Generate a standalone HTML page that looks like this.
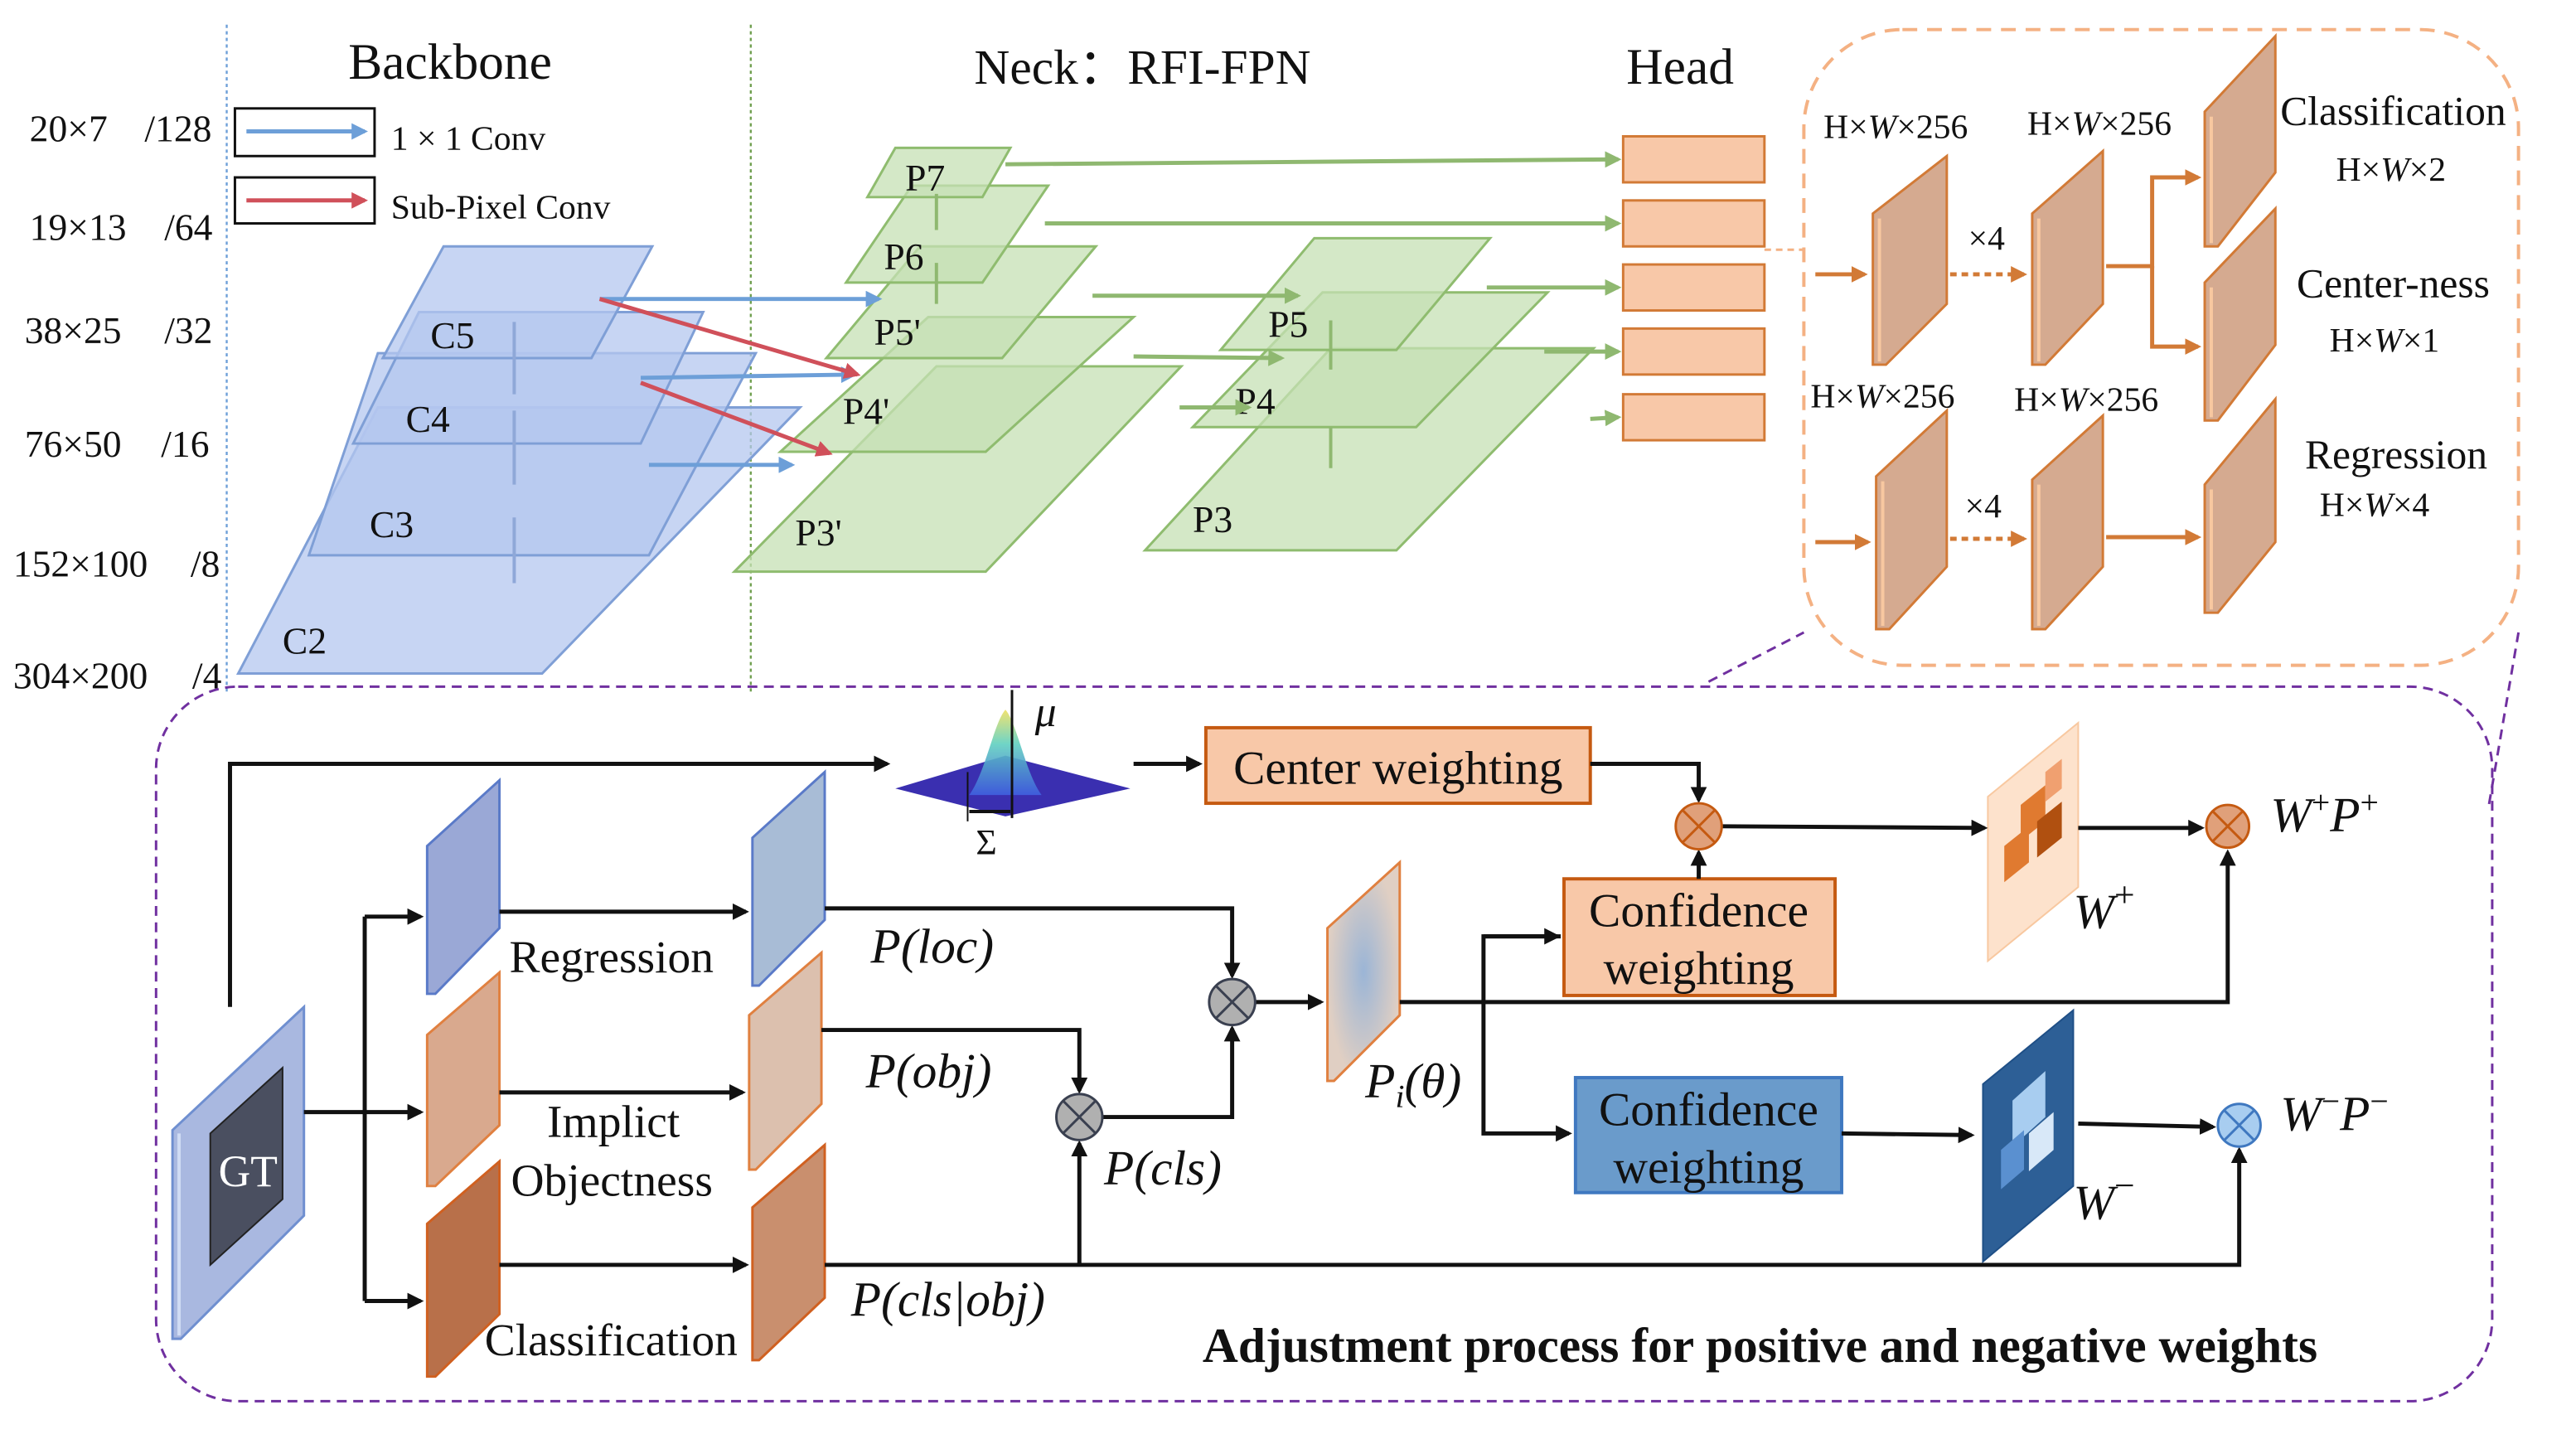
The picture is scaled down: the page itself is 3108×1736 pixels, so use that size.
<!DOCTYPE html>
<html><head><meta charset="utf-8"><style>
html,body{margin:0;padding:0;background:#fff;}
svg{display:block;}
text{font-family:"Liberation Serif",serif;fill:#111;}
.it{font-style:italic;}
</style></head><body>
<svg width="3108" height="1736" viewBox="0 0 1568 876" preserveAspectRatio="none" xmlns="http://www.w3.org/2000/svg">
<defs>
<marker id="ab" markerWidth="10" markerHeight="10" refX="8" refY="5" orient="auto" markerUnits="userSpaceOnUse"><path d="M0,0 L10,5 L0,10 z" fill="#111"/></marker>
<marker id="abl" markerWidth="10" markerHeight="10" refX="8" refY="5" orient="auto" markerUnits="userSpaceOnUse"><path d="M0,0 L10,5 L0,10 z" fill="#6d9fd8"/></marker>
<marker id="ar" markerWidth="10" markerHeight="10" refX="8" refY="5" orient="auto" markerUnits="userSpaceOnUse"><path d="M0,0 L10,5 L0,10 z" fill="#d0505a"/></marker>
<marker id="ag" markerWidth="10" markerHeight="10" refX="8" refY="5" orient="auto" markerUnits="userSpaceOnUse"><path d="M0,0 L10,5 L0,10 z" fill="#8fb870"/></marker>
<marker id="ao" markerWidth="10" markerHeight="10" refX="8" refY="5" orient="auto" markerUnits="userSpaceOnUse"><path d="M0,0 L10,5 L0,10 z" fill="#d27a36"/></marker>
<radialGradient id="pg" cx="0.5" cy="0.5" r="0.5"><stop offset="0" stop-color="#9bb5d6"/><stop offset="1" stop-color="#e0cfc3"/></radialGradient>
<linearGradient id="gs" x1="0" y1="0" x2="0" y2="1"><stop offset="0" stop-color="#f0e060"/><stop offset="0.4" stop-color="#60d0c0"/><stop offset="1" stop-color="#4060e0"/></linearGradient>
</defs>

<g font-size="23">
<text x="18" y="86">20×7</text><text x="88" y="86">/128</text>
<text x="18" y="146">19×13</text><text x="100" y="146">/64</text>
<text x="15" y="209">38×25</text><text x="100" y="209">/32</text>
<text x="15" y="278">76×50</text><text x="98" y="278">/16</text>
<text x="8" y="351">152×100</text><text x="116" y="351">/8</text>
<text x="8" y="419">304×200</text><text x="117" y="419">/4</text>
</g>
<line x1="138" y1="15" x2="138" y2="422" stroke="#6d9fd8" stroke-width="1.2" stroke-dasharray="2,2"/>
<line x1="457" y1="15" x2="457" y2="422" stroke="#70a050" stroke-width="1.2" stroke-dasharray="2,2"/>

<text x="212" y="48" font-size="31">Backbone</text>
<text x="593" y="51" font-size="30">Neck：RFI-FPN</text>
<text x="990" y="51" font-size="31">Head</text>

<rect x="143" y="66" width="85" height="29" fill="none" stroke="#111" stroke-width="1.5"/>
<line x1="150" y1="80" x2="222" y2="80" stroke="#6d9fd8" stroke-width="2.5" marker-end="url(#abl)"/>
<text x="238" y="91" font-size="21">1 × 1 Conv</text>
<rect x="143" y="108" width="85" height="28" fill="none" stroke="#111" stroke-width="1.5"/>
<line x1="150" y1="122" x2="222" y2="122" stroke="#d0505a" stroke-width="2.5" marker-end="url(#ar)"/>
<text x="238" y="133" font-size="21">Sub-Pixel Conv</text>

<g fill="#b4c7ef" fill-opacity="0.75" stroke="#7f9fd6" stroke-width="1.5">
<polygon points="230,248 487,248 330,410 145,410"/>
<polygon points="230,215 460,215 395,338 188,338"/>
<polygon points="255,190 428,190 390,270 215,270"/>
<polygon points="270,150 397,150 360,218 233,218"/>
</g>
<g stroke="#8fa8d8" stroke-width="2">
<line x1="313" y1="355" x2="313" y2="315"/><line x1="313" y1="295" x2="313" y2="250"/><line x1="313" y1="240" x2="313" y2="196"/>
</g>
<g font-size="23"><text x="262" y="212">C5</text><text x="247" y="263">C4</text><text x="225" y="327">C3</text><text x="172" y="398">C2</text></g>

<g fill="#c5e0b4" fill-opacity="0.75" stroke="#8fbc6f" stroke-width="1.5">
<polygon points="570,223 719,223 600,348 447,348"/>
<polygon points="565,193 690,193 600,275 475,275"/>
<polygon points="560,150 667,150 610,218 503,218"/>
<polygon points="555,113 638,113 598,172 515,172"/>
<polygon points="545,90 615,90 598,120 528,120"/>
<polygon points="810,212 970,212 850,335 697,335"/>
<polygon points="805,178 942,178 862,260 726,260"/>
<polygon points="800,145 907,145 850,213 743,213"/>
</g>
<g stroke="#8fb870" stroke-width="2"><line x1="570" y1="140" x2="570" y2="118"/><line x1="570" y1="185" x2="570" y2="160"/><line x1="810" y1="285" x2="810" y2="260"/><line x1="810" y1="225" x2="810" y2="195"/></g>
<g font-size="23"><text x="551" y="116">P7</text><text x="538" y="164">P6</text><text x="532" y="210">P5'</text><text x="513" y="258">P4'</text><text x="484" y="332">P3'</text>
<text x="772" y="205">P5</text><text x="752" y="252">P4</text><text x="726" y="324">P3</text></g>

<g stroke-width="2.5" fill="none">
<line x1="365" y1="182" x2="535" y2="182" stroke="#6d9fd8" marker-end="url(#abl)"/>
<line x1="390" y1="230" x2="520" y2="228" stroke="#6d9fd8" marker-end="url(#abl)"/>
<line x1="395" y1="283" x2="482" y2="283" stroke="#6d9fd8" marker-end="url(#abl)"/>
<line x1="365" y1="182" x2="522" y2="228" stroke="#d0505a" marker-end="url(#ar)"/>
<line x1="390" y1="233" x2="505" y2="276" stroke="#d0505a" marker-end="url(#ar)"/>
</g>
<g stroke="#8fb870" stroke-width="2.5" fill="none" marker-end="url(#ag)">
<line x1="612" y1="100" x2="985" y2="97"/>
<line x1="636" y1="136" x2="985" y2="136"/>
<line x1="665" y1="180" x2="790" y2="180"/>
<line x1="690" y1="217" x2="780" y2="218"/>
<line x1="718" y1="248" x2="760" y2="248"/>
<line x1="905" y1="175" x2="985" y2="175"/>
<line x1="940" y1="214" x2="985" y2="214"/>
<line x1="968" y1="255" x2="985" y2="254"/>
</g>
<g fill="#f8c8a8" stroke="#d27a36" stroke-width="1.5">
<rect x="988" y="83" width="86" height="28"/><rect x="988" y="122" width="86" height="28"/><rect x="988" y="161" width="86" height="28"/><rect x="988" y="200" width="86" height="28"/><rect x="988" y="240" width="86" height="28"/>
</g>

<rect x="1098" y="18" width="435" height="387" rx="60" fill="none" stroke="#f4b183" stroke-width="2" stroke-dasharray="9,6"/>
<line x1="1074" y1="152" x2="1098" y2="152" stroke="#f4b183" stroke-width="1.5" stroke-dasharray="4,3"/>
<g fill="#d5aa90" stroke="#d27a36" stroke-width="1.5">
<polygon points="1140,130 1185,95 1185,185 1148,222 1140,222"/>
<polygon points="1237,130 1280,92 1280,185 1245,222 1237,222"/>
<polygon points="1342,68 1385,22 1385,105 1350,150 1342,150"/>
<polygon points="1342,172 1385,127 1385,210 1350,256 1342,256"/>
<polygon points="1142,290 1185,250 1185,345 1150,383 1142,383"/>
<polygon points="1237,292 1280,253 1280,345 1245,383 1237,383"/>
<polygon points="1342,295 1385,243 1385,330 1350,373 1342,373"/>
</g>
<g stroke="#f8c8a0" stroke-width="2">
<line x1="1144" y1="133" x2="1144" y2="220"/><line x1="1241" y1="133" x2="1241" y2="220"/><line x1="1346" y1="71" x2="1346" y2="148"/><line x1="1346" y1="175" x2="1346" y2="254"/><line x1="1146" y1="293" x2="1146" y2="381"/><line x1="1241" y1="295" x2="1241" y2="381"/><line x1="1346" y1="298" x2="1346" y2="371"/>
</g>
<g stroke="#d27a36" stroke-width="2.5" fill="none">
<line x1="1105" y1="167" x2="1135" y2="167" marker-end="url(#ao)"/>
<line x1="1187" y1="167" x2="1232" y2="167" stroke-dasharray="4,3" marker-end="url(#ao)"/>
<polyline points="1282,162 1310,162 1310,108 1338,108" marker-end="url(#ao)"/>
<polyline points="1310,162 1310,211 1338,211" marker-end="url(#ao)"/>
<line x1="1105" y1="330" x2="1137" y2="330" marker-end="url(#ao)"/>
<line x1="1187" y1="328" x2="1232" y2="328" stroke-dasharray="4,3" marker-end="url(#ao)"/>
<line x1="1282" y1="327" x2="1338" y2="327" marker-end="url(#ao)"/>
</g>
<g font-size="21">
<text x="1110" y="84">H×<tspan class="it">W</tspan>×256</text>
<text x="1234" y="82">H×<tspan class="it">W</tspan>×256</text>
<text x="1102" y="248">H×<tspan class="it">W</tspan>×256</text>
<text x="1226" y="250">H×<tspan class="it">W</tspan>×256</text>
<text x="1198" y="152">×4</text><text x="1196" y="315">×4</text>
<text x="1422" y="110">H×<tspan class="it">W</tspan>×2</text>
<text x="1418" y="214">H×<tspan class="it">W</tspan>×1</text>
<text x="1412" y="314">H×<tspan class="it">W</tspan>×4</text>
</g>
<g font-size="25"><text x="1388" y="76">Classification</text><text x="1398" y="181">Center-ness</text><text x="1403" y="285">Regression</text></g>
<g stroke="#7030a0" stroke-width="1.5" stroke-dasharray="6,4"><line x1="1040" y1="415" x2="1098" y2="385"/><line x1="1533" y1="385" x2="1515" y2="490"/></g>

<rect x="95" y="418" width="1422" height="435" rx="50" fill="none" stroke="#7030a0" stroke-width="1.5" stroke-dasharray="6,4"/>

<polygon points="105,688 185,613 185,740 110,815 105,815" fill="#a9b8e0" stroke="#6f8fd0" stroke-width="1.5"/>
<line x1="109" y1="690" x2="109" y2="813" stroke="#d0dcf4" stroke-width="2"/>
<polygon points="128,690 172,650 172,730 128,770" fill="#4a4f60" stroke="#222" stroke-width="1"/>
<text x="133" y="722" font-size="27" style="fill:#fff">GT</text>

<g stroke-width="1.5">
<polygon points="260,515 304,475 304,565 265,605 260,605" fill="#9aa8d6" stroke="#5a7ac8"/>
<polygon points="260,630 304,592 304,685 265,722 260,722" fill="#d9a98e" stroke="#e08040"/>
<polygon points="260,745 304,707 304,800 265,838 260,838" fill="#b8704a" stroke="#d06020"/>
<polygon points="458,510 502,470 502,560 462,600 458,600" fill="#a8bcd6" stroke="#5a7ac8"/>
<polygon points="456,618 500,580 500,672 460,712 456,712" fill="#dcc0ae" stroke="#e08040"/>
<polygon points="458,735 502,697 502,790 462,828 458,828" fill="#c98f6e" stroke="#d06020"/>
<polygon points="808,565 852,525 852,618 812,658 808,658" fill="url(#pg)" stroke="#e08040"/>
</g>

<polygon points="545,480 612,460 688,480 612,497" fill="#3a2fb0"/>
<path d="M590,484 C600,470 605,440 612,432 C619,440 624,470 634,484 Z" fill="url(#gs)" opacity="0.9"/>
<line x1="616" y1="420" x2="616" y2="498" stroke="#111" stroke-width="1.5"/>
<line x1="589" y1="470" x2="589" y2="500" stroke="#111" stroke-width="1"/>
<line x1="590" y1="494" x2="615" y2="494" stroke="#111" stroke-width="2"/>
<text x="630" y="442" font-size="26" class="it">μ</text>
<text x="594" y="520" font-size="22">Σ</text>

<rect x="734" y="443" width="234" height="46" fill="#f8c8a8" stroke="#c55a11" stroke-width="2"/>
<text x="851" y="477" font-size="29" text-anchor="middle">Center weighting</text>
<rect x="952" y="535" width="165" height="71" fill="#f8c8a8" stroke="#c55a11" stroke-width="2"/>
<text x="1034" y="564" font-size="29" text-anchor="middle">Confidence</text>
<text x="1034" y="599" font-size="29" text-anchor="middle">weighting</text>
<rect x="959" y="656" width="162" height="70" fill="#6a9bcb" stroke="#3f78c0" stroke-width="2"/>
<text x="1040" y="685" font-size="29" text-anchor="middle">Confidence</text>
<text x="1040" y="720" font-size="29" text-anchor="middle">weighting</text>

<polygon points="1210,485 1265,440 1265,540 1210,585" fill="#fde2cc" stroke="#f8c8a0"/>
<g fill="#e07a30"><polygon points="1230,490 1245,478 1245,500 1230,512"/><polygon points="1240,500 1255,488 1255,510 1240,522" fill="#b05010"/><polygon points="1220,515 1235,503 1235,525 1220,537"/><polygon points="1245,470 1255,462 1255,480 1245,488" fill="#f0a070"/></g>
<polygon points="1207,660 1262,615 1262,722 1207,768" fill="#2d5f96" stroke="#1f4f86"/>
<g fill="#a8cdf0"><polygon points="1225,670 1245,652 1245,680 1225,698"/><polygon points="1235,690 1250,677 1250,700 1235,713" fill="#d8e8f8"/><polygon points="1218,700 1232,688 1232,712 1218,724" fill="#5a90d0"/></g>

<g stroke="#111" stroke-width="2.5" fill="none">
<polyline points="140,613 140,465 540,465" marker-end="url(#ab)"/>
<line x1="690" y1="465" x2="730" y2="465" marker-end="url(#ab)"/>
<polyline points="185,677 222,677" />
<line x1="222" y1="558" x2="222" y2="792"/>
<line x1="222" y1="558" x2="256" y2="558" marker-end="url(#ab)"/>
<line x1="222" y1="677" x2="256" y2="677" marker-end="url(#ab)"/>
<line x1="222" y1="792" x2="256" y2="792" marker-end="url(#ab)"/>
<line x1="304" y1="555" x2="454" y2="555" marker-end="url(#ab)"/>
<line x1="304" y1="665" x2="452" y2="665" marker-end="url(#ab)"/>
<line x1="304" y1="770" x2="454" y2="770" marker-end="url(#ab)"/>
<polyline points="502,553 750,553 750,594" marker-end="url(#ab)"/>
<polyline points="500,627 657,627 657,664" marker-end="url(#ab)"/>
<polyline points="502,770 1363,770 1363,700" marker-end="url(#ab)"/>
<line x1="657" y1="770" x2="657" y2="696" marker-end="url(#ab)"/>
<polyline points="671,680 750,680 750,626" marker-end="url(#ab)"/>
<line x1="764" y1="610" x2="804" y2="610" marker-end="url(#ab)"/>
<polyline points="852,610 1356,610 1356,519" marker-end="url(#ab)"/>
<polyline points="950,570 903,570 903,690 955,690" marker-end="url(#ab)"/>
<line x1="903" y1="570" x2="948" y2="570" marker-end="url(#ab)"/>
<polyline points="968,465 1034,465 1034,487" marker-end="url(#ab)"/>
<line x1="1034" y1="535" x2="1034" y2="519" marker-end="url(#ab)"/>
<line x1="1048" y1="503" x2="1208" y2="504" marker-end="url(#ab)"/>
<line x1="1265" y1="504" x2="1340" y2="504" marker-end="url(#ab)"/>
<line x1="1121" y1="690" x2="1200" y2="691" marker-end="url(#ab)"/>
<line x1="1265" y1="684" x2="1347" y2="686" marker-end="url(#ab)"/>
</g>

<g stroke-width="1.5">
<circle cx="1034" cy="503" r="14" fill="#e0a07a" stroke="#c55a11"/>
<path d="M1024,493 L1044,513 M1044,493 L1024,513" stroke="#c55a11"/>
<circle cx="750" cy="610" r="14" fill="#b0b0b0" stroke="#3a4050"/>
<path d="M740,600 L760,620 M760,600 L740,620" stroke="#3a4050"/>
<circle cx="657" cy="680" r="14" fill="#b0b0b0" stroke="#3a4050"/>
<path d="M647,670 L667,690 M667,670 L647,690" stroke="#3a4050"/>
<circle cx="1356" cy="503" r="13" fill="#e0a07a" stroke="#c55a11"/>
<path d="M1347,494 L1365,512 M1365,494 L1347,512" stroke="#c55a11"/>
<circle cx="1363" cy="685" r="13" fill="#a8cdf0" stroke="#3f78c0"/>
<path d="M1354,676 L1372,694 M1372,676 L1354,694" stroke="#3f78c0"/>
</g>

<g font-size="28">
<text x="310" y="592">Regression</text>
<text x="333" y="692">Implict</text>
<text x="311" y="728">Objectness</text>
<text x="295" y="825">Classification</text>
</g>
<g font-size="30">
<text x="530" y="586" class="it">P(loc)</text>
<text x="527" y="662" class="it">P(obj)</text>
<text x="672" y="721" class="it">P(cls)</text>
<text x="518" y="801" class="it">P(cls|obj)</text>
<text x="831" y="668" class="it">P<tspan font-size="20" dy="6">i</tspan><tspan dy="-6">(θ)</tspan></text>
<text x="1262" y="565" class="it">W<tspan font-size="22" dy="-13" font-style="normal">+</tspan></text>
<text x="1262" y="742" class="it">W<tspan font-size="22" dy="-13" font-style="normal">−</tspan></text>
<text x="1382" y="506" class="it">W<tspan font-size="20" dy="-11" font-style="normal">+</tspan><tspan dy="11">P</tspan><tspan font-size="20" dy="-11" font-style="normal">+</tspan></text>
<text x="1388" y="688" class="it">W<tspan font-size="20" dy="-11" font-style="normal">−</tspan><tspan dy="11">P</tspan><tspan font-size="20" dy="-11" font-style="normal">−</tspan></text>
</g>
<text x="732" y="829" font-size="30" font-weight="bold">Adjustment process for positive and negative weights</text>
</svg>
</body></html>
